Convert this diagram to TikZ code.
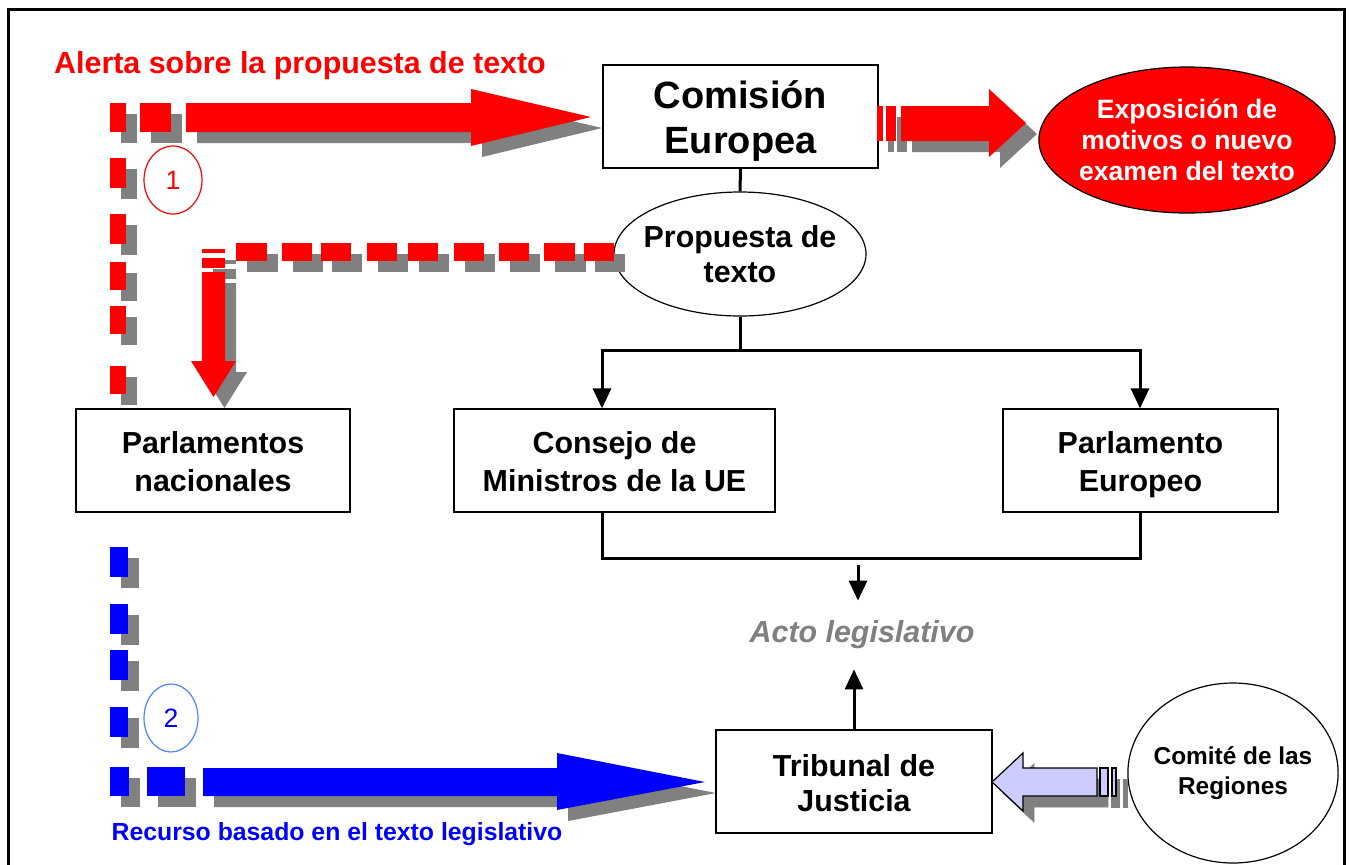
\documentclass[tikz,border=0pt]{standalone}
\usepackage{fontspec}
\setmainfont{Liberation Sans}
\usetikzlibrary{arrows.meta,shapes.geometric}
\definecolor{shgray}{HTML}{808080}
\definecolor{lav}{HTML}{CCCCFF}
\definecolor{ringblue}{HTML}{4F81FF}
% lowered text block that keeps its reported size
\newcommand{\lowtext}[2]{\raisebox{-#1}[\height][\depth]{\begin{tabular}{@{}c@{}}#2\end{tabular}}}
% shape groups (drawn once shifted in gray as shadow, once in colour)
\newcommand{\topredgroup}[1]{%
  \fill[#1] (110,103) rectangle (126,132);
  \fill[#1] (140,103) rectangle (171,132);
  \fill[#1] (186,103) -- (471,103) -- (471,89) -- (591,117) -- (471,146) -- (471,132) -- (186,132) -- cycle;
  \fill[#1] (110,158) rectangle (126,188);
  \fill[#1] (110,214) rectangle (126,244);
  \fill[#1] (110,262) rectangle (126,290);
  \fill[#1] (110,306) rectangle (126,334);
  \fill[#1] (110,366) rectangle (126,394);
}
\newcommand{\expogroup}[1]{%
  \fill[#1] (877,106) rectangle (883,141);
  \fill[#1] (886,106) rectangle (896,141);
  \fill[#1] (901,106) -- (989,106) -- (989,89) -- (1026,123) -- (989,157) -- (989,141) -- (901,141) -- cycle;
}
\newcommand{\dashgroup}[1]{%
  \foreach \a/\b in {236/267,282/312,321/351,367/397,408/438,454/484,499/529,544/575,584/614}
    {\fill[#1] (\a,243) rectangle (\b,261);}
  \fill[#1] (202,249) rectangle (225,253);
  \fill[#1] (202,258) rectangle (225,268);
  \fill[#1] (202,272) -- (225,272) -- (225,361) -- (236,361) -- (213.5,397) -- (191,361) -- (202,361) -- cycle;
}
\newcommand{\bluegroup}[1]{%
  \fill[#1] (110,547) rectangle (128,577);
  \fill[#1] (110,604) rectangle (128,634);
  \fill[#1] (110,650) rectangle (128,680);
  \fill[#1] (110,707) rectangle (128,737);
  \fill[#1] (110,767) rectangle (129,796);
  \fill[#1] (147,767) rectangle (185,796);
  \fill[#1] (203,768) -- (557,768) -- (557,753) -- (705,782) -- (557,810) -- (557,796) -- (203,796) -- cycle;
}
\newcommand{\comitegroup}[1]{%
  \filldraw[#1] (1100,768) rectangle (1108,796);
  \filldraw[#1] (1112,768) rectangle (1116,796);
  \filldraw[#1] (1097,768) -- (1023,768) -- (1023,753) -- (992,782) -- (1023,811) -- (1023,796) -- (1097,796) -- cycle;
}
\begin{document}
\begin{tikzpicture}[x=0.5pt,y=-0.5pt,
  box/.style={draw=black,line width=0.6pt,fill=white,inner sep=0pt,
    minimum height=51.5pt,font=\bfseries\fontsize{15.2}{19}\selectfont},
  ell/.style={ellipse,draw=black,line width=0.6pt,fill=white,inner ysep=0pt,align=center},
  ring/.style={ellipse,line width=0.6pt,inner sep=0pt,font=\fontsize{13.3}{16}\selectfont},
  conn/.style={line width=1.5pt},
  arr/.style={conn,-{Triangle[width=9pt,length=10pt]}},
  shadowed/.style={shift={(11,11)}}]
\useasboundingbox (0,0) rectangle (1349,864);
% frame
\draw[line width=1.5pt] (8,866) -- (8,9) -- (1344,9) -- (1344,866);

% nodes
\node[box,minimum width=137.5pt,font=\bfseries\fontsize{19}{22.5}\selectfont] (com) at (740.5,116.5) {\lowtext{2.5pt}{Comisión\\Europea}};
\node[ell,inner xsep=-3.6pt,minimum height=62pt,font=\bfseries\fontsize{15.2}{17.5}\selectfont] (prop) at (740,254) {Propuesta de\\texto};
\node[ell,inner xsep=-1.6pt,fill=red,text=white,minimum height=73pt,font=\bfseries\fontsize{13.3}{15.5}\selectfont] (expo) at (1187,140) {Exposición de\\motivos o nuevo\\examen del texto};
\node[box,minimum width=137pt] (pn) at (213,460.5) {\lowtext{2pt}{Parlamentos\\nacionales}};
\node[box,minimum width=160.5pt] (cm) at (614.5,460.5) {\lowtext{2pt}{Consejo de\\Ministros de la UE}};
\node[box,minimum width=137.5pt] (pe) at (1140.5,460.5) {\lowtext{2pt}{Parlamento\\Europeo}};
\node[box,minimum width=138pt,font=\bfseries\fontsize{15.2}{17.5}\selectfont] (tj) at (854,781.5) {\lowtext{2.5pt}{Tribunal de\\Justicia}};
\node[ell,inner xsep=-2.5pt,minimum height=90pt,font=\bfseries\fontsize{12.2}{15}\selectfont] (cr) at (1233,773) {Comité de las\\Regiones};
\node[text=shgray,inner sep=0pt,minimum height=34pt,font=\bfseries\itshape\fontsize{15.2}{18}\selectfont] (acto) at (862,635) {Acto legislativo};
\node[text=red,inner sep=0pt,font=\bfseries\fontsize{15.2}{18}\selectfont] (alert) at (300,66) {Alerta sobre la propuesta de texto};
\node[text=blue,inner sep=0pt,font=\bfseries\fontsize{12.4}{15}\selectfont] (rec) at (337,834) {Recurso basado en el texto legislativo};
\node[ring,draw=red,text=red,minimum width=29pt,minimum height=34pt] (one) at (173,180) {1};
\node[ring,draw=ringblue,text=blue,minimum width=27pt,minimum height=34pt] (two) at (171,718) {2};

% connectors
\coordinate (tm) at (740,350);
\coordinate (tl) at (602,350);
\coordinate (tr) at (1140,350);
\draw[conn] (com.south) -- (prop.north);
\draw[conn] (prop.south) -- (tm);
\draw[arr] (tm) -| (tl |- cm.north);
\draw[arr] (tm) -| (tr |- pe.north);
\coordinate (bl) at (602,558);
\coordinate (br) at (1140,558);
\draw[conn] (bl |- cm.south) -- (bl) -- (br) -- (br |- pe.south);
\coordinate (bm) at (858,565);
\draw[arr] (bm) -- (bm |- acto.north);
\draw[arr] (tj.north) -- (tj.north |- acto.south);

% shadows
\begin{scope}[shadowed]
  \topredgroup{shgray}
  \expogroup{shgray}
  \dashgroup{shgray}
  \bluegroup{shgray}
  \comitegroup{shgray}
\end{scope}
% coloured shapes
\topredgroup{red}
\expogroup{red}
\dashgroup{red}
\bluegroup{blue}
\comitegroup{fill=lav,draw=black,line width=0.6pt}
\end{tikzpicture}
\end{document}
